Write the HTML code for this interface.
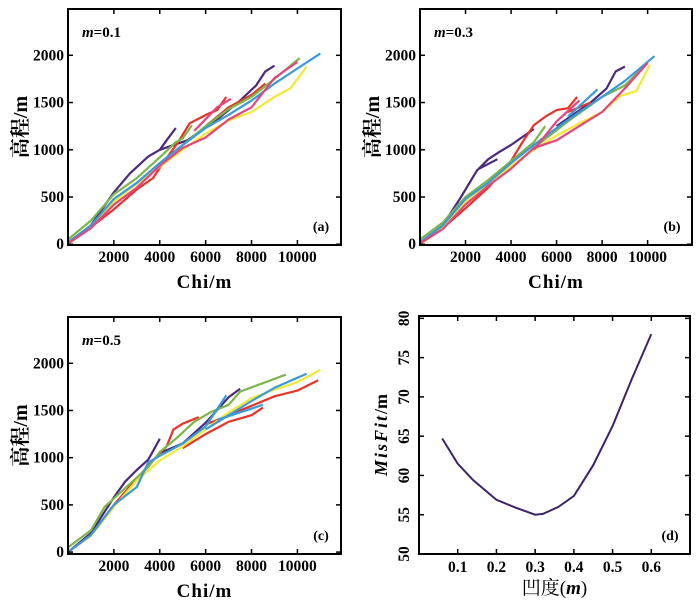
<!DOCTYPE html>
<html><head><meta charset="utf-8">
<style>
html,body{margin:0;padding:0;background:#fff;}
svg text{font-family:"Liberation Serif","Noto Serif CJK SC",serif;}
</style></head>
<body>
<svg id="fig" width="700" height="599" viewBox="0 0 700 599" xmlns="http://www.w3.org/2000/svg"></svg>
<script>
// ---- data ----
const xTicks = [2000,4000,6000,8000,10000];
const yTicks = [0,500,1000,1500,2000];
const seriesColors = ["#4b2a7b","#e8332a","#7ab648","#3a9ad9","#f2e935","#e6447f"];
// panel a (m=0.1)
const aPurple1 = [[0,0],[1000,200],[2000,550],[2700,750],[3500,930],[4000,1000],[4300,1100],[4700,1230]];
const aPurple2 = [[4000,1000],[5200,1100],[6500,1320],[7500,1520],[8200,1680],[8600,1830],[9000,1890]];
const aRed1 = [[0,0],[1000,180],[2000,370],[3000,580],[3700,700],[4200,880],[4800,1080],[5300,1280],[5700,1330],[6100,1380],[6500,1420],[6900,1560]];
const aRed2 = [[6000,1250],[7000,1450],[8000,1580],[8600,1700]];
const aGreen1 = [[0,50],[1000,250],[2000,530],[3000,700],[4000,920],[4700,1080],[5000,1120],[5400,1260]];
const aGreen2 = [[5000,1050],[6000,1250],[7000,1430],[8000,1560],[9000,1750],[10100,1970]];
const aBlue = [[0,20],[1000,200],[2000,480],[3000,650],[4000,860],[5000,1050],[6000,1230],[7000,1370],[8000,1520],[9000,1700],[10000,1860],[11000,2020]];
const aYellow = [[0,0],[1000,180],[2000,450],[3000,640],[4000,820],[5000,1000],[6000,1170],[7000,1310],[8000,1400],[9000,1560],[9700,1650],[10400,1880]];
const aPink1 = [[0,10],[1000,170],[2000,420],[3000,600],[4000,830],[5000,1020],[6000,1130],[7000,1320],[8000,1450],[9000,1760],[10000,1930]];
const aPink2 = [[5500,1200],[6500,1450],[7100,1540]];
// panel b (m=0.3)
const bPurple1 = [[0,0],[1000,200],[1800,500],[2500,780],[3000,900],[3500,980],[4000,1050],[5000,1220]];
const bPurple2 = [[2600,800],[3400,900]];
const bPurple3 = [[6000,1250],[7500,1500],[8200,1650],[8600,1830],[9000,1880]];
const bRed1 = [[0,0],[1000,170],[2000,380],[3000,600],[4000,880],[4500,1080],[5000,1260],[5500,1350],[6000,1420],[6500,1440],[6900,1560]];
const bRed2 = [[6500,1400],[7500,1500]];
const bGreen1 = [[0,50],[1000,230],[2000,500],[3000,680],[4000,880],[5000,1080],[5500,1250]];
const bGreen2 = [[5000,1020],[6500,1300],[8000,1560],[9000,1680],[10000,1920]];
const bBlue1 = [[0,20],[1000,200],[2000,480],[3000,650],[4000,860],[5000,1050],[6000,1230],[7000,1400],[8000,1560],[9000,1730],[10300,1990]];
const bBlue2 = [[6500,1350],[7800,1640]];
const bYellow = [[0,0],[1000,170],[2000,450],[3000,640],[4000,830],[5000,1000],[6000,1150],[7000,1280],[8000,1400],[8800,1570],[9500,1620],[10100,1900]];
const bPink1 = [[0,10],[1000,160],[2000,420],[3000,620],[4000,800],[5000,1020],[6000,1100],[7000,1250],[8000,1400],[9000,1650],[10000,1920]];
const bPink2 = [[5000,1000],[6000,1300],[7000,1520]];
// panel c (m=0.5)
const cPurple1 = [[0,0],[1000,200],[2000,580],[2500,750],[3000,870],[3500,980],[4000,1200]];
const cPurple2 = [[4000,1050],[5000,1150],[6000,1370],[7000,1640],[7500,1730]];
const cRed1 = [[0,0],[1000,180],[2000,500],[3000,780],[4000,1050],[4300,1120],[4600,1300],[5000,1360],[5700,1430]];
const cRed2 = [[5000,1100],[6000,1250],[7000,1380],[8000,1450],[8500,1530]];
const cRed3 = [[6000,1350],[8000,1550],[9000,1650],[10000,1710],[10900,1820]];
const cGreen = [[0,50],[1000,230],[1600,480],[2500,680],[3500,900],[4000,1060],[4700,1200],[5500,1380],[6200,1480],[7000,1560],[7500,1700],[8500,1790],[9500,1880]];
const cBlue1 = [[0,0],[1000,180],[2000,500],[3000,690],[3500,950],[4000,1020],[5000,1150],[6000,1330],[6900,1660]];
const cBlue2 = [[6000,1300],[7000,1450],[8000,1600],[9000,1740],[10400,1890]];
const cBlue3 = [[6500,1400],[8500,1560]];
const cYellow = [[0,0],[1000,170],[2000,480],[3000,760],[4000,970],[5000,1120],[6000,1300],[7000,1480],[8000,1630],[9000,1720],[10000,1800],[11000,1930]];
// panel d
const dConcavity = [0.06,0.1,0.14,0.2,0.25,0.3,0.32,0.36,0.4,0.45,0.5,0.55,0.6];
const dMisfit = [64.7,61.5,59.4,56.9,55.9,55.0,55.1,56.0,57.4,61.3,66.3,72.3,78.0];
const dXTicks = [0.1,0.2,0.3,0.4,0.5,0.6];
const dYTicks = [50,55,60,65,70,75,80];

const svg = document.getElementById('fig');
const NS = "http://www.w3.org/2000/svg";
function mk(tag, attrs, parent){
  const e = document.createElementNS(NS, tag);
  for (const k in attrs) e.setAttribute(k, attrs[k]);
  (parent||svg).appendChild(e);
  return e;
}

function panel(key, box, xd, yd, series, mlabel, letter){
  const g = mk('g', {});
  
  
  const sx = v => box.x0 + (v - xd[0]) / (xd[1] - xd[0]) * (box.x1 - box.x0);
  const sy = v => box.y1 - (v - yd[0]) / (yd[1] - yd[0]) * (box.y1 - box.y0);
  series.forEach((s, i) => {
    const p = mk('polyline', {points: s[1].map(q => sx(q[0]).toFixed(1) + ',' + sy(q[1]).toFixed(1)).join(' '),
      fill: 'none', stroke: seriesColors[s[0]], 'stroke-width': 2.2, 'stroke-linejoin': 'round'}, g);
    
    
  });
  const fr = mk('rect', {x: box.x0, y: box.y0, width: box.x1 - box.x0, height: box.y1 - box.y0, fill: 'none', stroke: '#000', 'stroke-width': 2}, g);
  
  
  xTicks.forEach(t => {
    const x = sx(t);
    mk('line', {x1: x, x2: x, y1: box.y1, y2: box.y1 - 5, stroke: '#000', 'stroke-width': 1.5}, g);
    mk('line', {x1: x, x2: x, y1: box.y0, y2: box.y0 + 5, stroke: '#000', 'stroke-width': 1.5}, g);
    const tx = mk('text', {x: x, y: box.y1 + 17, 'text-anchor': 'middle', 'font-size': 15.5, 'font-weight': 'bold'}, g);
    tx.textContent = t;
    
    
  });
  yTicks.forEach(t => {
    const y = sy(t);
    mk('line', {x1: box.x0, x2: box.x0 + 5, y1: y, y2: y, stroke: '#000', 'stroke-width': 1.5}, g);
    mk('line', {x1: box.x1, x2: box.x1 - 5, y1: y, y2: y, stroke: '#000', 'stroke-width': 1.5}, g);
    const ty = mk('text', {x: box.x0 - 4, y: y + 5, 'text-anchor': 'end', 'font-size': 15.5, 'font-weight': 'bold'}, g);
    ty.textContent = t;
    
    
  });
  const ml = mk('text', {x: box.x0 + 14, y: box.y0 + 28, 'font-size': 15, 'font-weight': 'bold'}, g);
  ml.innerHTML = '<tspan font-style="italic">m</tspan>=' + mlabel;
  
  
  const lt = mk('text', {x: box.x1 - 20, y: box.y1 - 14, 'text-anchor': 'middle', 'font-size': 14, 'font-weight': 'bold'}, g);
  lt.textContent = '(' + letter + ')';
  
  
  const xt = mk('text', {x: (box.x0 + box.x1) / 2, y: box.y1 + 43, 'text-anchor': 'middle', 'font-size': 19, 'font-weight': 'bold', 'letter-spacing': 1}, g);
  xt.textContent = 'Chi/m';
  
  
  const cy = (box.y0 + box.y1) / 2;
  const yt = mk('text', {x: box.x0 - 41, y: cy, 'text-anchor': 'middle', 'font-size': 20, 'font-weight': 'bold', transform: 'rotate(-90 ' + (box.x0 - 41) + ' ' + cy + ')'}, g);
  yt.textContent = '高程/m';
  
  
}

panel('a', {x0: 68, x1: 341, y0: 9, y1: 245}, [0, 11900], [-8, 2490],
  [[0,aPurple1],[0,aPurple2],[1,aRed1],[1,aRed2],[2,aGreen1],[2,aGreen2],[4,aYellow],[3,aBlue],[5,aPink1],[5,aPink2]], '0.1', 'a');
panel('b', {x0: 420, x1: 692, y0: 9, y1: 245}, [0, 11950], [-8, 2490],
  [[0,bPurple1],[0,bPurple2],[0,bPurple3],[1,bRed1],[1,bRed2],[2,bGreen1],[2,bGreen2],[4,bYellow],[3,bBlue1],[3,bBlue2],[5,bPink1],[5,bPink2]], '0.3', 'b');
panel('c', {x0: 68, x1: 341, y0: 317, y1: 554}, [0, 11900], [-20, 2490],
  [[0,cPurple1],[0,cPurple2],[1,cRed1],[1,cRed2],[1,cRed3],[2,cGreen],[4,cYellow],[3,cBlue1],[3,cBlue2],[3,cBlue3]], '0.5', 'c');

// panel d
(function(){
  const box = {x0: 419, x1: 690, y0: 316, y1: 554};
  const xd = [0, 0.7], yd = [50, 80.3];
  const g = mk('g', {});
  
  
  const sx = v => box.x0 + (v - xd[0]) / (xd[1] - xd[0]) * (box.x1 - box.x0);
  const sy = v => box.y1 - (v - yd[0]) / (yd[1] - yd[0]) * (box.y1 - box.y0);
  const pl = mk('polyline', {points: dConcavity.map((c, i) => sx(c).toFixed(1) + ',' + sy(dMisfit[i]).toFixed(1)).join(' '),
    fill: 'none', stroke: '#3d2466', 'stroke-width': 2}, g);
  
  
  const fr = mk('rect', {x: box.x0, y: box.y0, width: box.x1 - box.x0, height: box.y1 - box.y0, fill: 'none', stroke: '#000', 'stroke-width': 2}, g);
  
  
  dXTicks.forEach(t => {
    const x = sx(t);
    mk('line', {x1: x, x2: x, y1: box.y1, y2: box.y1 - 5, stroke: '#000', 'stroke-width': 1.5}, g);
    mk('line', {x1: x, x2: x, y1: box.y0, y2: box.y0 + 5, stroke: '#000', 'stroke-width': 1.5}, g);
    const tx = mk('text', {x: x, y: box.y1 + 18, 'text-anchor': 'middle', 'font-size': 15.5, 'font-weight': 'bold'}, g);
    tx.textContent = t.toFixed(1);
    
    
  });
  dYTicks.forEach(t => {
    const y = sy(t);
    mk('line', {x1: box.x0, x2: box.x0 + 5, y1: y, y2: y, stroke: '#000', 'stroke-width': 1.5}, g);
    mk('line', {x1: box.x1, x2: box.x1 - 5, y1: y, y2: y, stroke: '#000', 'stroke-width': 1.5}, g);
    const lx = box.x0 - 10;
    const ty = mk('text', {x: lx, y: y, 'text-anchor': 'middle', 'font-size': 15.5, 'font-weight': 'bold', transform: 'rotate(-90 ' + lx + ' ' + y + ')'}, g);
    ty.textContent = t;
    
    
  });
  const lt = mk('text', {x: box.x1 - 20, y: box.y1 - 14, 'text-anchor': 'middle', 'font-size': 14, 'font-weight': 'bold'}, g);
  lt.textContent = '(d)';
  
  
  const xt = mk('text', {x: (box.x0 + box.x1) / 2, y: box.y1 + 40, 'text-anchor': 'middle', 'font-size': 19}, g);
  xt.innerHTML = '凹度(<tspan font-style="italic" font-weight="bold">m</tspan>)';
  
  
  const cy = (box.y0 + box.y1) / 2, lx = 387;
  const yt = mk('text', {x: lx, y: cy, 'text-anchor': 'middle', 'font-size': 18, 'font-weight': 'bold', transform: 'rotate(-90 ' + lx + ' ' + cy + ')'}, g);
  yt.innerHTML = '<tspan font-style="italic" letter-spacing="2">MisFit</tspan>/m';
  
  
})();
</script>
</body></html>
